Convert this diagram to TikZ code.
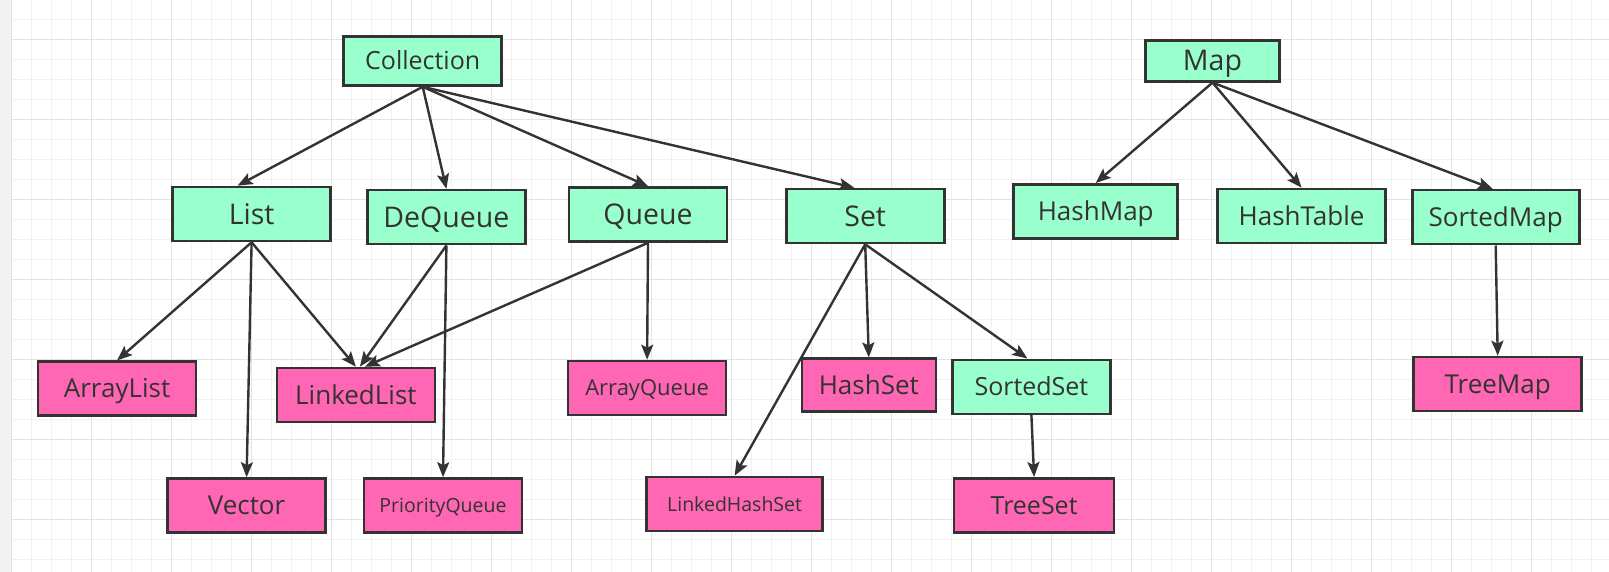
\documentclass[tikz,border=0pt]{standalone}
\usepackage{fontspec}
\setmainfont{Open Sans}
\usetikzlibrary{arrows.meta}
\definecolor{MintFill}{HTML}{99FFCC}
\definecolor{PinkFill}{HTML}{FF66B3}
\definecolor{InkGray}{HTML}{333333}
\definecolor{GridMinor}{HTML}{F1F1F1}
\definecolor{GridMajor}{HTML}{E3E3E3}
\definecolor{SideGray}{HTML}{F2F2F2}
\tikzset{
  iface/.style={draw=InkGray, line width=2.6pt, fill=MintFill, text=InkGray, minimum width=158pt, minimum height=54pt, inner sep=2pt, font=\fontsize{26}{28}\selectfont, text height=24.5pt, text depth=6pt},
  impl/.style={iface, fill=PinkFill},
  bigtxt/.style={font=\fontsize{28.5}{30}\selectfont, text height=26.3pt, text depth=6pt},
  txtxv/.style={font=\fontsize{25}{27}\selectfont, text height=23.8pt, text depth=6pt},
  midtxt/.style={font=\fontsize{22}{24}\selectfont, text height=21.7pt, text depth=6pt},
  smalltxt/.style={font=\fontsize{19.5}{22}\selectfont, text height=20pt, text depth=6pt},
  arrow/.style={-{Stealth[length=15pt,width=12pt,inset=3pt]}, line width=2.4pt, draw=InkGray},
  minorline/.style={draw=GridMinor, line width=1pt},
  majorline/.style={draw=GridMajor, line width=1.2pt}
}

\begin{document}
\begin{tikzpicture}[x=1pt, y=-1pt]
\useasboundingbox (0,0) rectangle (1609,572);
\begin{scope}
\clip (0,0) rectangle (1609,572);
\fill[white] (0,0) rectangle (1609,572);
% background grid
\foreach \i in {0,...,79} \draw[minorline] (11.3+20*\i,0) -- (11.3+20*\i,572);
\foreach \j in {0,...,29} \draw[minorline] (0,-0.7+20*\j) -- (1609,-0.7+20*\j);
\foreach \i in {0,...,19} \draw[majorline] (11.3+80*\i,0) -- (11.3+80*\i,572);
\foreach \j in {0,...,6} \draw[majorline] (0,39.3+80*\j) -- (1609,39.3+80*\j);
\fill[SideGray] (0,0) rectangle (10.5,572);
\end{scope}

% interfaces
\node[iface, txtxv, minimum height=49pt] (Collection) at (422.7,61) {Collection};
\node[iface, bigtxt, minimum width=134pt, minimum height=41pt] (Map) at (1212.5,60.8) {Map};
\node[iface, bigtxt] (List) at (251.6,214) {List};
\node[iface, bigtxt] (DeQueue) at (446.4,217.2) {DeQueue};
\node[iface, bigtxt] (Queue) at (648,214.5) {Queue};
\node[iface, bigtxt] (Set) at (865.2,216) {Set};
\node[iface, minimum width=164pt] (HashMap) at (1095.7,211.3) {HashMap};
\node[iface, minimum width=168pt] (HashTable) at (1301.6,216) {HashTable};
\node[iface, minimum width=167pt] (SortedMap) at (1495.7,217.2) {SortedMap};
\node[iface, txtxv] (SortedSet) at (1031.4,386.8) {SortedSet};

% implementations
\node[impl] (ArrayList) at (117.1,388.7) {ArrayList};
\node[impl] (LinkedList) at (355.9,395) {LinkedList};
\node[impl, midtxt] (ArrayQueue) at (647.1,388) {ArrayQueue};
\node[impl, minimum width=134pt, minimum height=53pt] (HashSet) at (868.8,385.2) {HashSet};
\node[impl, minimum width=168pt] (TreeMap) at (1497.7,384) {TreeMap};
\node[impl] (Vector) at (246.6,505.5) {Vector};
\node[impl, smalltxt] (PriorityQueue) at (443,505.5) {PriorityQueue};
\node[impl, smalltxt, minimum width=176pt] (LinkedHashSet) at (734.6,504) {LinkedHashSet};
\node[impl, txtxv, minimum width=160pt] (TreeSet) at (1034.1,505.3) {TreeSet};

% edges
\draw[arrow] (Collection.south) -- ([xshift=-14pt]List.north);
\draw[arrow] (Collection.south) -- (DeQueue.north);
\draw[arrow] (Collection.south) -- (Queue.north);
\draw[arrow] (Collection.south) -- ([xshift=-11pt]Set.north);
\draw[arrow] (Map.south) -- (HashMap.north);
\draw[arrow] (Map.south) -- (HashTable.north);
\draw[arrow] (Map.south) -- ([xshift=-3pt]SortedMap.north);
\draw[arrow] (List.south) -- (ArrayList.north);
\draw[arrow] (List.south) -- (Vector.north);
\draw[arrow] (List.south) -- (LinkedList.north);
\draw[arrow] (DeQueue.south) -- ([xshift=4pt]LinkedList.north);
\draw[arrow] (DeQueue.south) -- (PriorityQueue.north);
\draw[arrow] (Queue.south) -- ([xshift=9pt]LinkedList.north);
\draw[arrow] (Queue.south) -- (ArrayQueue.north);
\draw[arrow] (Set.south) -- (LinkedHashSet.north);
\draw[arrow] (Set.south) -- (HashSet.north);
\draw[arrow] (Set.south) -- ([xshift=-4pt]SortedSet.north);
\draw[arrow] (SortedSet.south) -- (TreeSet.north);
\draw[arrow] (SortedMap.south) -- (TreeMap.north);
\end{tikzpicture}
\end{document}
